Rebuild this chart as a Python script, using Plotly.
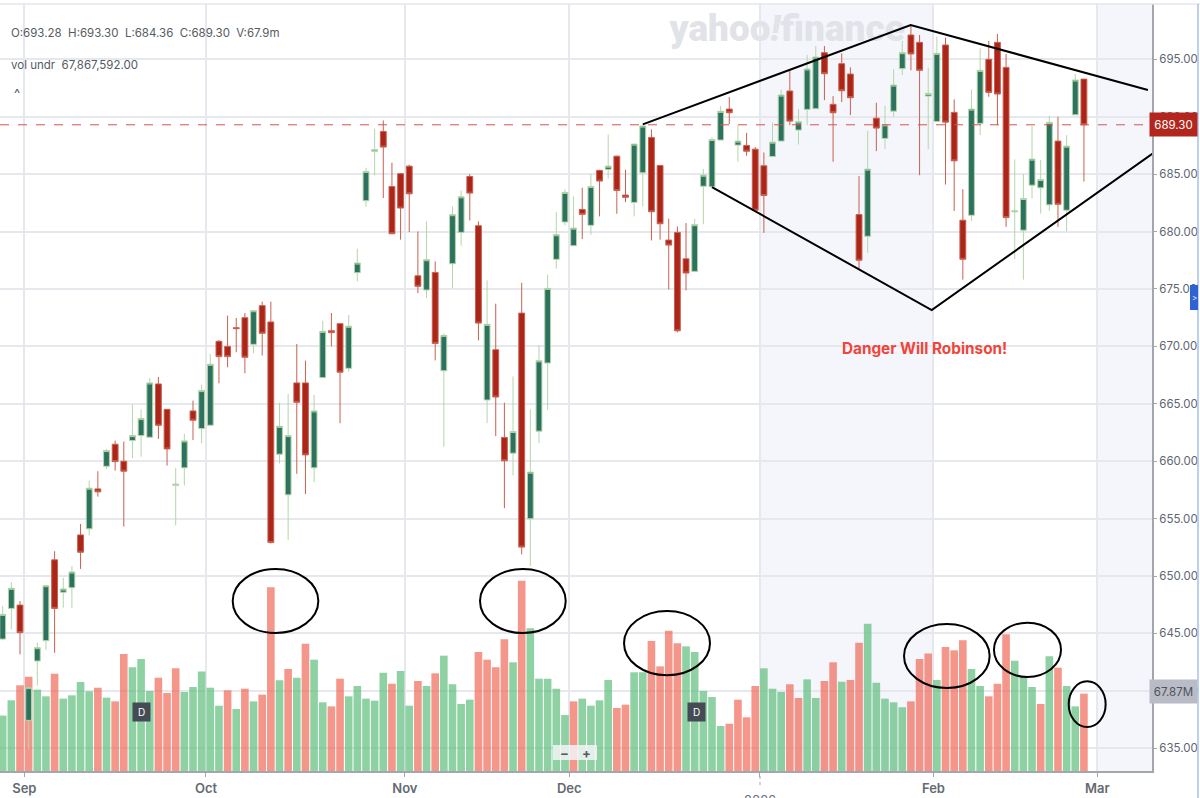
import plotly.graph_objects as go

opens = [644.51,647.18,647.47,637.43,642.6,644.37,651.41,648.58,648.98,653.58,
654.11,657.59,659.56,661.48,660.0,661.8,662.23,662.09,666.73,664.52,
657.9,659.42,664.38,662.84,663.13,670.44,670.0,671.63,672.5,670.18,
673.55,672.13,660.61,657.07,666.82,666.82,659.42,667.28,671.37,671.98,
668.09,676.42,682.69,687.0,688.72,683.93,685.04,685.7,676.15,674.91,
676.44,667.88,677.2,679.93,684.8,680.51,665.33,669.71,662.07,660.7,
672.9,654.99,662.62,668.55,677.58,680.83,678.77,681.93,680.54,685.33,
685.41,686.57,683.18,682.54,685.12,688.2,685.76,679.26,679.93,677.63,
676.53,683.95,683.9,687.97,690.67,687.53,687.5,687.18,685.73,686.54,
687.88,692.24,688.84,690.64,690.7,695.58,691.08,694.62,693.72,681.48,
679.59,689.88,688.11,690.49,694.19,697.12,696.48,691.8,689.59,696.25,
690.38,680.99,681.42,689.42,695.0,696.48,694.3,681.72,680.12,684.04,
683.81,682.33,687.88,681.86,690.17,693.28]
highs = [647.4,649.45,647.82,640.28,644.2,649.16,652.16,649.85,650.87,654.54,
658.31,659.13,661.07,661.8,661.71,664.93,664.5,667.25,667.34,664.52,
659.42,662.38,665.28,666.67,669.34,670.56,672.68,672.48,672.91,673.11,
673.9,673.9,665.1,665.86,670.21,668.76,665.77,672.24,672.91,671.98,
672.74,678.51,685.56,688.96,689.68,686.0,685.1,685.82,680.01,680.89,
677.4,671.1,682.19,683.58,685.0,680.89,675.75,673.72,665.09,667.38,
675.54,664.51,670.09,676.24,681.7,683.67,683.06,683.82,685.0,685.38,
688.46,686.6,685.38,687.65,689.3,688.9,685.76,681.12,680.45,680.74,
681.12,685.44,688.2,690.93,691.72,689.27,688.6,687.38,686.89,689.51,
692.38,694.01,690.67,695.38,696.16,696.16,691.8,695.52,694.3,684.83,
688.78,691.22,690.96,694.13,696.6,697.91,697.12,694.27,696.98,696.89,
691.51,683.69,692.38,695.96,696.6,697.21,695.47,686.28,685.0,689.19,
686.22,690.09,690.0,688.4,693.72,693.30]
lows = [644.4,645.36,643.18,634.9,640.45,643.56,643.32,647.24,647.24,650.62,
653.53,656.92,659.33,659.18,654.31,660.26,660.4,662.09,661.94,659.62,
654.4,657.88,661.85,661.56,663.13,666.79,668.18,669.49,667.66,669.4,
669.2,652.83,659.82,653.15,658.9,657.15,658.17,667.28,670.0,663.31,
667.8,675.66,682.16,684.89,682.92,679.81,679.29,679.96,674.64,674.21,
668.78,661.26,675.08,678.77,680.97,670.52,663.32,662.18,655.91,658.76,
651.88,650.86,661.57,664.48,676.76,680.54,678.77,679.35,679.72,681.32,
684.6,681.55,682.57,681.32,682.19,679.23,679.29,674.96,671.22,674.88,
676.53,680.64,683.9,687.97,689.36,686.08,686.6,681.86,679.88,686.54,
687.88,689.27,687.59,689.27,690.7,691.45,686.08,691.28,690.15,676.63,
678.14,687.01,687.18,690.0,693.63,694.04,684.91,687.18,689.59,684.1,
681.8,675.81,680.93,688.4,691.74,689.27,680.41,677.59,675.81,682.88,
681.57,681.8,680.41,680.03,690.17,684.36]
closes = [646.66,648.93,645.07,640.28,643.76,649.16,647.18,648.87,650.35,652.07,
657.65,657.33,660.93,659.97,659.13,662.23,663.71,666.82,663.13,661.07,
658.0,661.77,663.57,666.15,668.44,669.11,669.11,671.55,669.05,673.11,
671.14,652.92,663.04,662.23,665.13,660.55,664.38,671.31,671.2,667.75,
671.75,677.26,685.24,687.13,687.36,679.81,682.05,683.29,675.23,677.55,
670.26,670.96,681.47,683.03,683.35,672.03,671.92,665.59,660.04,662.59,
652.52,659.05,668.75,675.05,679.72,683.41,680.3,681.5,683.93,684.4,
685.7,683.58,682.98,687.62,689.19,681.73,680.68,678.82,671.36,676.39,
680.6,684.91,688.02,690.47,690.35,687.88,687.0,681.86,683.14,687.79,
691.89,689.62,689.56,694.16,695.2,693.75,690.35,692.27,691.66,677.5,
685.44,689.01,689.3,692.76,695.58,695.47,694.04,692.03,695.52,689.53,
686.16,677.59,690.67,694.04,692.12,691.98,681.22,681.8,682.88,686.31,
684.53,689.51,682.38,687.44,693.2,689.30]
volumes_m = [48.6,62.0,75.2,82.8,71.4,65.5,85.4,63.5,66.4,78.1,
69.9,73.1,64.4,61.1,102.7,91.0,98.3,70.2,81.9,68.4,
90.1,69.3,73.7,87.2,73.1,57.3,70.8,54.4,72.2,61.1,
67.0,161.2,79.6,89.5,81.9,111.7,97.7,60.3,56.7,81.0,
65.5,74.6,63.5,61.7,86.3,76.6,87.8,57.3,79.0,74.6,
85.7,101.2,76.1,58.8,62.6,104.4,97.7,91.0,115.5,95.4,
167.0,125.2,81.0,81.0,72.2,49.1,61.1,63.5,57.3,62.0,
79.9,55.3,58.2,86.6,86.6,114.1,91.8,123.1,112.0,109.4,
104.4,70.2,64.9,39.5,41.5,62.6,47.1,74.6,90.1,72.2,
69.3,76.1,64.1,80.4,64.1,79.0,95.4,78.4,79.9,112.6,
129.3,77.5,63.5,60.3,55.9,61.1,98.3,103.0,79.9,108.8,
105.9,114.7,89.5,74.6,65.5,76.6,119.9,96.8,83.4,73.7,
58.8,100.6,90.7,74.6,56.7,67.87]
volume_dir = ["g","g","r","r","g","g","r","g","g","g",
"g","r","g","r","r","g","g","g","r","r",
"r","g","g","g","g","g","r","g","r","g",
"r","r","g","r","g","r","g","g","r","r",
"g","g","g","g","g","r","g","g","r","g",
"r","g","g","g","g","r","r","r","r","g",
"r","g","g","g","g","g","r","g","g","g",
"g","r","r","g","g","r","r","r","r","g",
"g","g","g","g","r","r","r","r","g","g",
"g","r","r","g","g","r","r","g","r","r",
"g","g","g","g","g","r","r","r","g","r",
"r","r","g","g","r","r","r","g","g","g",
"r","g","r","g","g","r"]
month_pos = [2.5, 23.5, 46.5, 65.5, 87.55, 107.6, 126.56]
month_labels = ["Sep", "Oct", "Nov", "Dec", "", "Feb", "Mar"]
price_ticks = [635, 640, 645, 650, 655, 660, 665, 670, 675, 680, 685, 690, 695]
diamond_top_x = [74.0, 104.97, 132.4]
diamond_top_y = [689.34, 697.99, 692.33]
diamond_bottom_x = [82.0, 107.4, 133.25]
diamond_bottom_y = [683.87, 673.17, 686.95]
ellipses = [(26.59, 36.49, 645.04, 650.61), (55.18, 65.09, 645.04, 650.61),
            (71.83, 81.77, 641.36, 646.95), (104.2, 114.1, 640.25, 645.82),
            (114.6, 122.35, 641.21, 645.94), (123.24, 127.51, 636.85, 640.83)]

bar_colors = ["rgba(94,189,124,0.7)" if d == "g" else "rgba(239,105,88,0.7)" for d in volume_dir]
xs = list(range(len(opens)))

FONT = "Inter, Liberation Sans, sans-serif"
GRID = "#e6e8ee"
AXIS = "#a3a6ad"

def px(x): return x / 1152
def py(y): return (771 - y) / 767

fig = go.Figure()
fig.add_trace(go.Bar(x=xs, y=volumes_m, marker=dict(color=bar_colors, line_width=0), yaxis="y", hoverinfo="skip"))
fig.add_trace(go.Scatter(x=[90.7], y=[648.5], mode="text", text=["yahoo<i>!</i>finance"], yaxis="y", hoverinfo="skip",
                         textfont=dict(family="Roboto, sans-serif", size=37, color="#e1e3e8", weight=900)))
fig.add_trace(go.Candlestick(x=xs, open=opens, high=highs, low=lows, close=closes, yaxis="y2", hoverinfo="skip",
    increasing=dict(line=dict(color="#b4d6a8", width=1), fillcolor="#2d7260"),
    decreasing=dict(line=dict(color="#c8604f", width=1), fillcolor="#ab2519")))
line = dict(color="black", width=2)
fig.add_trace(go.Scatter(x=diamond_top_x, y=diamond_top_y, mode="lines", line=line, yaxis="y2", cliponaxis=False, hoverinfo="skip"))
fig.add_trace(go.Scatter(x=diamond_bottom_x, y=diamond_bottom_y, mode="lines", line=line, yaxis="y2", cliponaxis=False, hoverinfo="skip"))

shapes = [
    dict(type="rect", xref="x", yref="paper", x0=month_pos[4], x1=month_pos[5], y0=0, y1=1, layer="below",
         fillcolor="rgba(228,232,248,0.4)", line_width=0),
    dict(type="rect", xref="x", yref="paper", x0=month_pos[6], x1=132.87, y0=0, y1=1, layer="below",
         fillcolor="rgba(228,232,248,0.4)", line_width=0),
    dict(type="line", xref="paper", yref="y2", x0=0, x1=1, y0=closes[-1], y1=closes[-1],
         line=dict(color="#d9534f", width=1, dash="dash")),
    dict(type="line", xref="x", yref="paper", x0=month_pos[4], x1=month_pos[4], y0=py(776), y1=py(787),
         line=dict(color=AXIS, width=1, dash="dot")),
    dict(type="line", xref="paper", yref="paper", x0=0, x1=px(1200), y0=1, y1=1, line=dict(color="#e4e6ec", width=1.5)),
    dict(type="line", xref="paper", yref="paper", x0=px(1198), x1=px(1198), y0=py(4), y1=py(798), line=dict(color="#a9c0ee", width=1.5)),
    dict(type="rect", xref="paper", yref="paper", x0=px(553), x1=px(597), y0=py(760), y1=py(745),
         fillcolor="rgba(243,244,246,0.85)", line_width=0),
    dict(type="rect", xref="paper", yref="paper", x0=px(1190), x1=px(1198), y0=py(310), y1=py(285),
         fillcolor="#2f62d5", line_width=0),
]
for x0, x1, y0, y1 in ellipses:
    shapes.append(dict(type="circle", xref="x", yref="y2", x0=x0, x1=x1, y0=y0, y1=y1,
                       line=dict(color="black", width=2)))

def note(text, x, y, size=12, color="#555b63", anchor="left", **kw):
    return dict(text=text, xref="paper", yref="paper", x=px(x), y=py(y), xanchor=anchor, yanchor="middle",
                showarrow=False, font=dict(family=FONT, size=size, color=color), **kw)

annotations = [
    note("O:693.28&nbsp;&nbsp;H:693.30&nbsp;&nbsp;L:684.36&nbsp;&nbsp;C:689.30&nbsp;&nbsp;V:67.9m", 8.5, 33, size=11.5),
    note("vol undr&nbsp;&nbsp;67,867,592.00", 8.5, 65, size=11.5),
    note("^", 12, 93, size=13),
    note("<b>Danger Will Robinson!</b>", 840, 348, size=15.3, color="#f0453a"),
    note("2026", 760, 800, size=13, anchor="center", color="#646a72"),
    note("D", 141.7, 712, size=10, color="white", anchor="center", bgcolor="#454b55", width=15, height=16),
    note("D", 696, 712, size=10, color="white", anchor="center", bgcolor="#454b55", width=15, height=16),
    note("<b>−</b>", 564, 752.5, size=13, color="#555b63", anchor="center"),
    note("<b>+</b>", 586, 752.5, size=13, color="#555b63", anchor="center"),
    note(">", 1194, 298, size=8, color="white", anchor="center"),
    note("689.30", 1173.5, 124.5, size=11.5, color="white", anchor="center", bgcolor="#b3261e", width=45, height=21),
    note("67.87M", 1173.5, 691.5, size=11.5, color="#4d535b", anchor="center", bgcolor="#b9bcc6", width=45, height=21),
]

fig.update_layout(
    width=1200, height=798, autosize=False, showlegend=False, bargap=0.12, boxgap=0.25, boxgroupgap=0.1,
    margin=dict(l=0, r=48, t=4, b=27), paper_bgcolor="white", plot_bgcolor="white",
    shapes=shapes, annotations=annotations,
    xaxis=dict(range=[-0.312, 132.87], tickvals=month_pos, ticktext=month_labels, showgrid=True, gridcolor=GRID, gridwidth=1.5,
               zeroline=False, rangeslider=dict(visible=False), showline=True, linecolor=AXIS, linewidth=2,
               ticks="outside", ticklen=4, tickcolor=AXIS,
               tickfont=dict(family=FONT, size=13, color="#646a72", weight=600)),
    yaxis=dict(range=[0, 673], visible=False, fixedrange=True),
    yaxis2=dict(range=[633.02, 699.82], overlaying="y", side="right", tickvals=price_ticks,
                ticktext=[f"{v:.2f}" for v in price_ticks], showgrid=True, gridcolor=GRID, gridwidth=1.5, zeroline=False,
                showline=True, linecolor=AXIS, linewidth=2, ticks="outside", ticklen=3, tickcolor=AXIS,
                tickfont=dict(family=FONT, size=11.5, color="#5e6670")),
)
fig.write_html("out.html", config=dict(displayModeBar=False),
               post_script="document.body.style.margin='0';document.body.style.overflow='hidden';")
print(len(opens), len(highs), len(lows), len(closes), len(volumes_m), len(volume_dir))
